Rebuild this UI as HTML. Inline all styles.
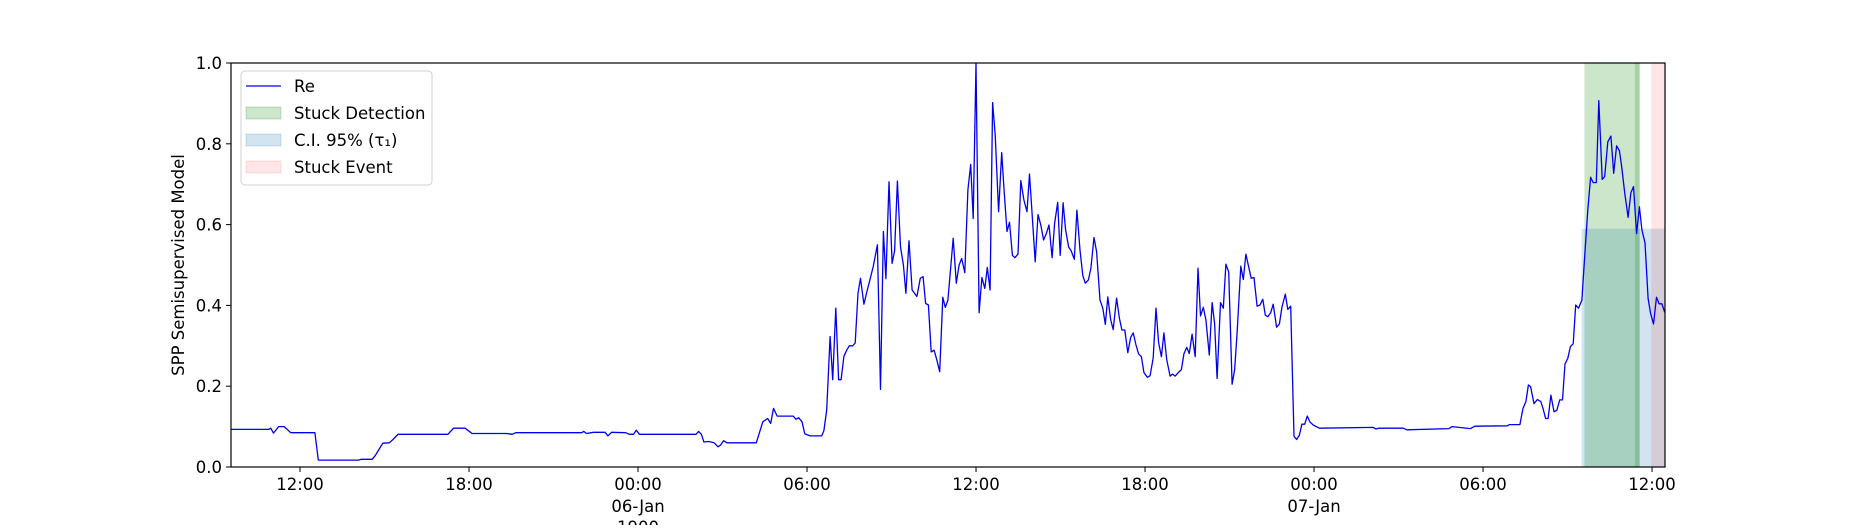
<!DOCTYPE html>
<html><head><meta charset="utf-8"><style>
body{margin:0;background:#fff;width:1850px;height:525px;overflow:hidden}
svg text{font-family:"DejaVu Sans","Liberation Sans",sans-serif;font-size:16.5px;fill:#000}
</style></head><body>
<svg id="chart" width="1850" height="525" xmlns="http://www.w3.org/2000/svg"></svg>
<script>
// data: time in hours since 05-Jan 00:00, value
const times = [9.52,10.89,10.96,11.06,11.24,11.44,11.67,12.53,12.65,14.08,14.18,14.56,14.66,14.94,15.17,15.30,15.48,17.25,17.45,17.86,18.11,19.34,19.53,19.66,22.00,22.07,22.17,22.42,22.83,22.93,23.06,23.56,23.69,23.84,23.94,24.05,26.06,26.15,26.25,26.34,26.51,26.70,26.84,26.94,27.04,27.16,28.20,28.43,28.60,28.71,28.81,28.94,
29.04,29.51,29.61,29.70,29.82,29.92,30.11,30.52,30.60,30.70,30.82,30.91,31.02,31.12,31.21,31.31,31.41,31.50,31.62,31.71,31.81,31.90,32.02,32.14,32.26,32.35,32.50,32.61,32.71,32.80,32.91,33.02,33.11,33.21,33.32,33.42,33.51,33.62,33.73,33.90,34.02,34.12,34.21,34.31,34.41,34.51,34.60,34.71,34.82,34.91,35.00,35.19,35.30,35.40,35.49,35.60,35.71,35.81,35.90,36.00,36.11,36.21,36.31,36.40,36.50,36.59,36.68,36.80,36.91,37.00,37.10,37.19,37.29,37.38,37.49,37.59,37.70,37.81,37.90,38.00,38.10,38.20,38.30,38.40,38.49,38.59,38.70,38.79,38.90,38.99,39.09,39.18,39.29,39.38,39.49,39.58,39.69,39.79,39.88,39.99,40.08,40.19,40.28,40.40,
40.50,40.59,40.68,40.78,40.87,40.99,41.09,41.18,41.28,41.39,41.49,41.58,41.68,41.77,41.87,41.96,42.08,42.18,42.29,42.39,42.48,42.58,42.67,42.77,42.89,42.98,43.07,43.17,43.29,43.38,43.48,43.57,43.67,43.78,43.88,43.97,44.07,44.16,44.28,44.38,44.47,44.56,44.68,44.78,44.87,44.97,45.09,45.18,45.27,45.40,45.49,45.58,45.68,45.77,45.87,45.98,46.08,46.18,46.27,46.36,46.46,46.55,46.67,46.77,46.86,46.98,47.07,47.17,47.29,47.38,47.48,47.57,47.67,47.76,47.85,47.97,48.19,50.10,50.20,50.29,51.17,51.29,
52.79,52.90,53.56,53.71,54.86,54.94,55.31,55.42,55.52,55.61,55.69,55.81,55.93,56.05,56.13,56.22,56.31,56.41,56.52,56.62,56.72,56.82,56.91,57.01,57.10,57.20,57.29,57.39,57.51,57.63,57.72,57.82,57.91,58.02,58.11,58.23,58.32,58.43,58.54,58.64,58.74,58.84,58.92,59.03,59.15,59.25,59.34,59.45,59.55,59.64,59.75,59.86,59.95,60.05,60.16,60.25,60.35,60.45];
const values = [0.093,0.093,0.096,0.084,0.100,0.100,0.085,0.085,0.017,0.017,0.019,0.019,0.027,0.059,0.060,0.068,0.081,0.081,0.096,0.096,0.083,0.083,0.081,0.085,0.085,0.088,0.083,0.086,0.086,0.077,0.086,0.085,0.081,0.081,0.091,0.081,0.081,0.088,0.081,0.062,0.063,0.060,0.050,0.055,0.065,0.060,0.060,0.112,0.120,0.108,0.145,0.126,
0.126,0.126,0.118,0.122,0.112,0.082,0.077,0.077,0.090,0.141,0.323,0.216,0.393,0.216,0.216,0.274,0.289,0.300,0.300,0.307,0.430,0.467,0.403,0.438,0.471,0.496,0.550,0.192,0.583,0.466,0.706,0.504,0.535,0.708,0.545,0.500,0.430,0.560,0.438,0.422,0.467,0.471,0.405,0.401,0.285,0.289,0.267,0.236,0.420,0.395,0.413,0.566,0.455,0.500,0.516,0.481,0.686,0.749,0.615,1.0,0.382,0.469,0.442,0.494,0.438,0.902,0.822,0.632,0.778,0.681,0.583,0.606,0.524,0.518,0.527,0.709,0.661,0.632,0.725,0.615,0.508,0.625,0.599,0.562,0.577,0.599,0.518,0.603,0.655,0.524,0.654,0.587,0.544,0.535,0.514,0.636,0.537,0.474,0.455,0.463,0.492,0.568,0.533,0.413,
0.393,0.353,0.421,0.364,0.340,0.418,0.368,0.339,0.339,0.283,0.321,0.332,0.302,0.280,0.273,0.234,0.222,0.226,0.270,0.393,0.308,0.273,0.332,0.266,0.225,0.230,0.225,0.233,0.241,0.280,0.296,0.281,0.329,0.273,0.492,0.374,0.395,0.364,0.277,0.407,0.355,0.219,0.407,0.393,0.502,0.483,0.205,0.240,0.332,0.497,0.464,0.527,0.495,0.467,0.469,0.398,0.401,0.415,0.376,0.372,0.382,0.403,0.346,0.354,0.395,0.428,0.390,0.398,0.076,0.068,0.079,0.106,0.106,0.126,0.112,0.104,0.096,0.098,0.094,0.096,0.096,0.092,
0.095,0.100,0.095,0.101,0.102,0.105,0.105,0.145,0.162,0.203,0.199,0.157,0.167,0.162,0.145,0.120,0.120,0.178,0.137,0.140,0.166,0.166,0.255,0.269,0.298,0.305,0.401,0.393,0.413,0.545,0.636,0.717,0.704,0.704,0.907,0.712,0.719,0.805,0.819,0.727,0.795,0.783,0.745,0.679,0.618,0.679,0.694,0.578,0.644,0.587,0.555,0.417,0.380,0.354,0.420,0.404,0.404,0.383];
const xTickHours = [12,18,24,30,36,42,48,54,60];
const xTickLabels = ["12:00","18:00","00:00","06:00","12:00","18:00","00:00","06:00","12:00"];
const xTickSub = ["","","06-Jan\n1900","","","","07-Jan","",""];
const yTicks = [0,0.2,0.4,0.6,0.8,1.0];
const yTickLabels = ["0.0","0.2","0.4","0.6","0.8","1.0"];
const ciSpan = [57.50,60.7,0.59];
const detectSpans = [[57.60,59.56],[59.39,59.56]];
const eventSpan = [59.97,60.7];
const xMin = 9.55, xMax = 60.46;

const L=231,R=1665,T=63,B=467;
const sx=h=>L+(h-xMin)/(xMax-xMin)*(R-L);
const sy=v=>B-v*(B-T);
const NS="http://www.w3.org/2000/svg";
const svg=document.getElementById('chart');
function mk(tag,attrs,parent){const e=document.createElementNS(NS,tag);for(const k in attrs)e.setAttribute(k,attrs[k]);(parent||svg).appendChild(e);return e;}

const defs=mk('defs',{});
const cp=mk('clipPath',{id:'clip'},defs);mk('rect',{x:L,y:T,width:R-L,height:B-T},cp);
const g=mk('g',{'clip-path':'url(#clip)'});



let r=mk('rect',{x:sx(ciSpan[0]),y:sy(ciSpan[2]),width:sx(ciSpan[1])-sx(ciSpan[0]),height:B-sy(ciSpan[2]),fill:'#1f77b4','fill-opacity':0.2},g);


detectSpans.forEach(s=>{
  const e=mk('rect',{x:sx(s[0]),y:T,width:sx(s[1])-sx(s[0]),height:B-T,fill:'green','fill-opacity':0.2},g);
  
  
});
r=mk('rect',{x:sx(eventSpan[0]),y:T,width:sx(eventSpan[1])-sx(eventSpan[0]),height:B-T,fill:'red','fill-opacity':0.1},g);



const pts=times.map((t,i)=>sx(t).toFixed(1)+','+sy(values[i]).toFixed(1)).join(' ');
const line=mk('polyline',{points:pts,fill:'none',stroke:'#0000ee','stroke-width':1.3,'stroke-linejoin':'round'},g);



const frame=mk('rect',{x:L,y:T,width:R-L,height:B-T,fill:'none',stroke:'#000','stroke-width':1.2});



yTicks.forEach((v,i)=>{
  mk('line',{x1:L-5,x2:L,y1:sy(v),y2:sy(v),stroke:'#000','stroke-width':1});
  const t=mk('text',{x:L-9,y:sy(v)+6,'text-anchor':'end'});t.textContent=yTickLabels[i];
  
  
});
xTickHours.forEach((h,i)=>{
  mk('line',{x1:sx(h),x2:sx(h),y1:B,y2:B+5,stroke:'#000','stroke-width':1});
  const t=mk('text',{x:sx(h),y:B+23,'text-anchor':'middle'});t.textContent=xTickLabels[i];
  
  
  xTickSub[i].split('\n').forEach((s,j)=>{ if(!s)return;
    const u=mk('text',{x:sx(h),y:B+45+j*21,'text-anchor':'middle'});u.textContent=s;
    
    
  });
});
const yl=mk('text',{x:0,y:0,'text-anchor':'middle',transform:`translate(184,${(T+B)/2}) rotate(-90)`});
yl.textContent='SPP Semisupervised Model';



// legend
const lg=mk('g',{});


mk('rect',{x:241,y:71,width:191,height:114,rx:4,fill:'#fff','fill-opacity':0.8,stroke:'#d0d0d0'},lg);
const ent=[['Re','line'],['Stuck Detection','green'],['C.I. 95% (τ₁)','#1f77b4'],['Stuck Event','red']];
ent.forEach((e,i)=>{
  const y=86+i*27;
  const eg=mk('g',{},lg);
  
  
  if(e[1]==='line') mk('line',{x1:246,x2:281,y1:y,y2:y,stroke:'#0000ee','stroke-width':1.3},eg);
  else mk('rect',{x:246,y:y-6,width:35,height:12,fill:e[1],'fill-opacity':e[1]==='red'?0.1:0.2,stroke:e[1],'stroke-opacity':e[1]==='red'?0.1:0.2},eg);
  const t=mk('text',{x:294,y:y+6},eg);t.textContent=e[0];
});
</script>
</body></html>
